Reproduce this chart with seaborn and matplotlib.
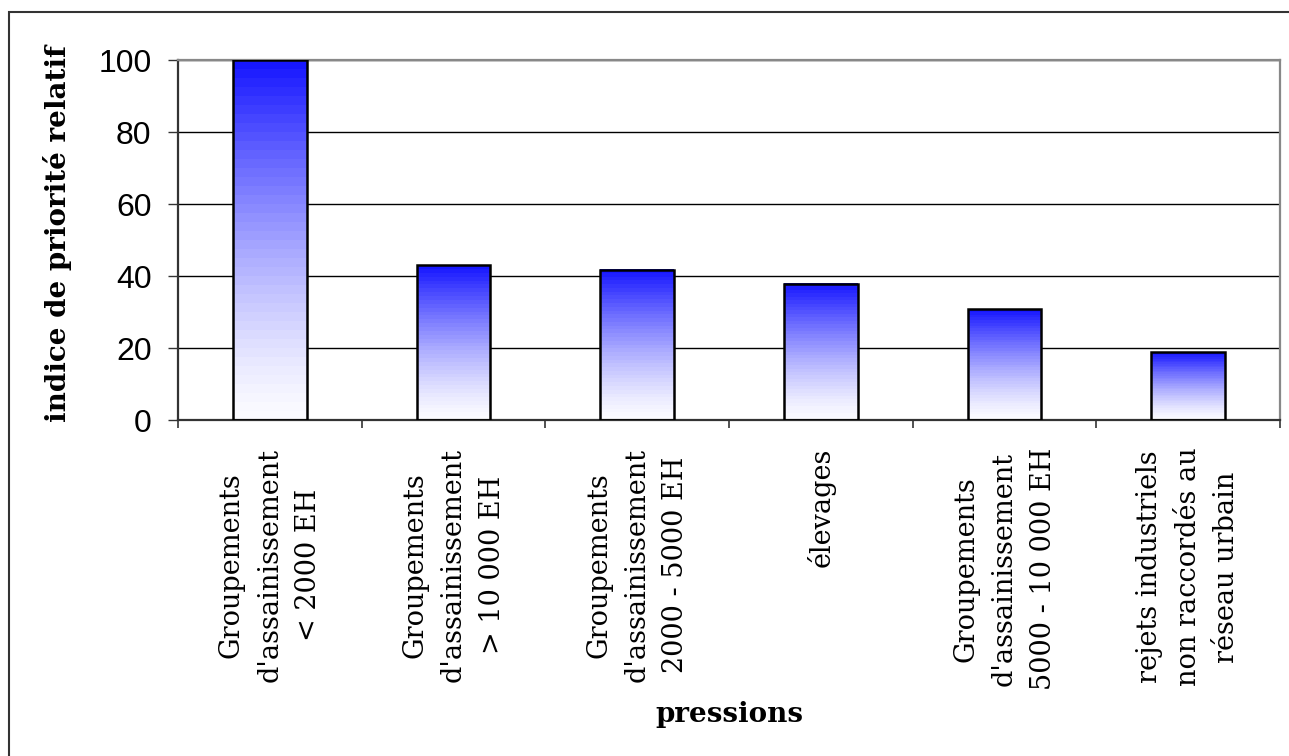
import numpy as np
import pandas as pd
import matplotlib
matplotlib.use("Agg")
import matplotlib.pyplot as plt
from matplotlib.patches import Rectangle
import seaborn as sns

categories = [
    "Groupements\nd'assainissement\n< 2000 EH",
    "Groupements\nd'assainissement\n> 10 000 EH",
    "Groupements\nd'assainissement\n2000 - 5000 EH",
    "élevages",
    "Groupements\nd'assainissement\n5000 - 10 000 EH",
    "rejets industriels\nnon raccordés au\nréseau urbain",
]
values = [100, 43, 41.7, 37.8, 30.8, 18.8]
yticks = [0, 20, 40, 60, 80, 100]

sns.set_style("white")
plt.rcParams["font.family"] = ["DejaVu Sans"]
plt.rcParams["text.color"] = "black"
plt.rcParams["xtick.color"] = "black"
plt.rcParams["ytick.color"] = "black"

W, H = 1289, 756
fig = plt.figure(figsize=(W / 100, H / 100), dpi=100)
ax = fig.add_axes([178 / W, 1 - 420 / H, (1280 - 178) / W, 360 / H])

df = pd.DataFrame({"cat": categories, "val": values})
sns.barplot(data=df, x="cat", y="val", ax=ax, width=0.4, color="white", zorder=3)

top = np.array([20, 20, 255]) / 255.0
white = np.array([252, 252, 255]) / 255.0
nsteps = 40
for p in list(ax.patches):
    x0, w, h = p.get_x(), p.get_width(), p.get_height()
    t = (np.arange(nsteps) + 0.5) / nsteps
    f = t ** 1.35
    grad = white[None, :] * (1 - f[:, None]) + top[None, :] * f[:, None]
    grad = grad[:, None, :]
    ax.imshow(grad, origin="lower", extent=[x0, x0 + w, 0, h], aspect="auto",
              interpolation="nearest", zorder=2)
    p.set_facecolor("none")
    p.set_edgecolor("black")
    p.set_linewidth(1.8)
    p.set_zorder(4)

ax.set_xlim(-0.5, len(categories) - 0.5)
ax.set_ylim(0, 100)
ax.set_yticks(yticks)
ax.set_yticklabels([str(v) for v in yticks], fontfamily="Liberation Sans", fontsize=23, color="black")
ax.set_xticks(range(len(categories)))
ax.set_xticklabels(categories, rotation=90, fontfamily="DejaVu Serif", fontsize=19.5, color="black",
                   multialignment="center", va="top", ha="center", linespacing=1.55)
ax.set_xticks(np.arange(-0.5, len(categories)), minor=True)
ax.tick_params(axis="x", which="major", length=0, pad=20)
ax.tick_params(axis="x", which="minor", length=6, width=1.2, color="#333333", direction="out", bottom=True)
ax.tick_params(axis="y", which="major", length=7, width=1, color="#333333", direction="out", left=True, pad=12)

for y in yticks[1:]:
    ax.axhline(y, color="black", lw=1, zorder=1)

ax.set_xlabel("")
ax.set_ylabel("")
for s in ["left", "bottom"]:
    ax.spines[s].set_color("#333333")
    ax.spines[s].set_linewidth(1.6)
for s in ["right", "top"]:
    ax.spines[s].set_color("#888888")
    ax.spines[s].set_linewidth(1.6)
    ax.spines[s].set_visible(True)

fig.text(58 / W, 1 - 234 / H, "indice de priorité relatif", rotation=90, ha="center", va="center",
         fontfamily="DejaVu Serif", fontweight="bold", fontsize=20, color="black")
fig.text(729 / W, 1 - 714 / H, "pressions", ha="center", va="center",
         fontfamily="DejaVu Serif", fontweight="bold", fontsize=20, color="black")

fig.patches.append(Rectangle((9 / W, -0.02), 1.0, 0.02 + 1 - 12 / H, transform=fig.transFigure,
                             fill=False, edgecolor="#333333", linewidth=1.5))

fig.savefig("out.png", dpi=100, facecolor="white")
